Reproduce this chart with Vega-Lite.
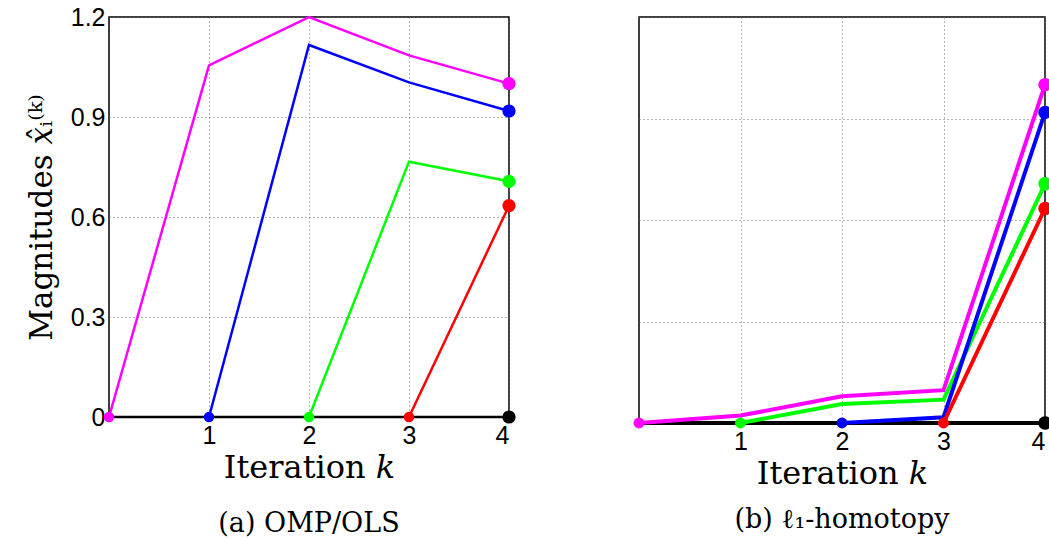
{
  "$schema": "https://vega.github.io/schema/vega-lite/v6.json",
  "padding": {"left": 25, "top": 4, "right": 0, "bottom": 0},
  "background": "white",
  "spacing": 130,
  "bounds": "flush",
  "config": {
    "view": {"stroke": "black", "strokeWidth": 1.5},
    "axis": {
      "labelFont": "Liberation Sans",
      "labelFontSize": 25,
      "labelColor": "black",
      "titleFont": "DejaVu Serif",
      "titleFontWeight": "normal",
      "titleFontSize": 32,
      "titleColor": "black",
      "domain": false,
      "ticks": false,
      "gridColor": "#666",
      "gridDash": [1, 3],
      "gridWidth": 1
    },
    "title": {"font": "DejaVu Serif", "fontSize": 27, "fontWeight": "normal", "color": "black"}
  },
  "data": {
    "values": [
      {"panel": "a", "s": "x5", "k": 0, "v": 0},
      {"panel": "a", "s": "x5", "k": 4, "v": 0},
      {"panel": "a", "s": "x1", "k": 0, "v": 0},
      {"panel": "a", "s": "x1", "k": 1, "v": 1.055},
      {"panel": "a", "s": "x1", "k": 2, "v": 1.2},
      {"panel": "a", "s": "x1", "k": 3, "v": 1.085},
      {"panel": "a", "s": "x1", "k": 4, "v": 1.0},
      {"panel": "a", "s": "x2", "k": 1, "v": 0},
      {"panel": "a", "s": "x2", "k": 2, "v": 1.116},
      {"panel": "a", "s": "x2", "k": 3, "v": 1.004},
      {"panel": "a", "s": "x2", "k": 4, "v": 0.918},
      {"panel": "a", "s": "x3", "k": 2, "v": 0},
      {"panel": "a", "s": "x3", "k": 3, "v": 0.766},
      {"panel": "a", "s": "x3", "k": 4, "v": 0.707},
      {"panel": "a", "s": "x4", "k": 3, "v": 0},
      {"panel": "a", "s": "x4", "k": 4, "v": 0.634},
      {"panel": "b", "s": "x5", "k": 0, "v": 0},
      {"panel": "b", "s": "x5", "k": 4, "v": 0},
      {"panel": "b", "s": "x1", "k": 0, "v": 0},
      {"panel": "b", "s": "x1", "k": 1, "v": 0.022},
      {"panel": "b", "s": "x1", "k": 2, "v": 0.079},
      {"panel": "b", "s": "x1", "k": 3, "v": 0.097},
      {"panel": "b", "s": "x1", "k": 4, "v": 1.0},
      {"panel": "b", "s": "x3", "k": 1, "v": 0},
      {"panel": "b", "s": "x3", "k": 2, "v": 0.056},
      {"panel": "b", "s": "x3", "k": 3, "v": 0.069},
      {"panel": "b", "s": "x3", "k": 4, "v": 0.707},
      {"panel": "b", "s": "x2", "k": 2, "v": 0},
      {"panel": "b", "s": "x2", "k": 3, "v": 0.017},
      {"panel": "b", "s": "x2", "k": 4, "v": 0.918},
      {"panel": "b", "s": "x4", "k": 3, "v": 0},
      {"panel": "b", "s": "x4", "k": 4, "v": 0.634}
    ]
  },
  "hconcat": [
    {
      "width": 400,
      "height": 400,
      "title": {"text": "(a) OMP/OLS", "orient": "bottom", "offset": 28},
      "transform": [{"filter": "datum.panel == 'a'"}],
      "encoding": {
        "x": {"field": "k", "type": "quantitative", "scale": {"domain": [0, 4], "nice": false},
              "axis": {"values": [1, 2, 3, 4], "title": "Iteration 𝑘", "labelPadding": 6, "titlePadding": 4}},
        "y": {"field": "v", "type": "quantitative", "scale": {"domain": [0, 1.2], "nice": false},
              "axis": {"values": [0, 0.3, 0.6, 0.9, 1.2], "format": "~g", "title": "Magnitudes  𝑥̂ᵢ⁽ᵏ⁾", "titleFontSize": 31, "labelPadding": 4, "titlePadding": 12}},
        "color": {"field": "s", "type": "nominal", "legend": null,
                  "scale": {"domain": ["x1", "x2", "x3", "x4", "x5"], "range": ["#ff00ff", "#0000ff", "#00ff00", "#ff0000", "#000000"]}}
      },
      "layer": [
        {"mark": {"type": "line", "strokeWidth": 2.5, "clip": false}},
        {
          "transform": [
            {"window": [{"op": "min", "field": "k", "as": "kmin"}], "groupby": ["s"], "frame": [null, null]},
            {"filter": "datum.k == datum.kmin && datum.s != 'x5'"}
          ],
          "mark": {"type": "point", "filled": true, "opacity": 1, "size": 110, "clip": false}
        },
        {
          "transform": [{"filter": "datum.k == 4"}],
          "mark": {"type": "point", "filled": true, "opacity": 1, "size": 175, "clip": false}
        }
      ]
    },
    {
      "width": 406,
      "height": 406,
      "title": {"text": "(b) ℓ₁-homotopy", "orient": "bottom", "offset": 18},
      "transform": [{"filter": "datum.panel == 'b'"}],
      "encoding": {
        "x": {"field": "k", "type": "quantitative", "scale": {"domain": [0, 4], "nice": false},
              "axis": {"values": [1, 2, 3, 4], "title": "Iteration 𝑘", "labelPadding": 6, "titlePadding": 4}},
        "y": {"field": "v", "type": "quantitative", "scale": {"domain": [0, 1.2], "nice": false},
              "axis": {"values": [0, 0.3, 0.6, 0.9, 1.2], "labels": false, "title": null}},
        "color": {"field": "s", "type": "nominal", "legend": null,
                  "scale": {"domain": ["x1", "x2", "x3", "x4", "x5"], "range": ["#ff00ff", "#0000ff", "#00ff00", "#ff0000", "#000000"]}}
      },
      "layer": [
        {"mark": {"type": "line", "strokeWidth": 4, "clip": false}},
        {
          "transform": [
            {"window": [{"op": "min", "field": "k", "as": "kmin"}], "groupby": ["s"], "frame": [null, null]},
            {"filter": "datum.k == datum.kmin && datum.s != 'x5'"}
          ],
          "mark": {"type": "point", "filled": true, "opacity": 1, "size": 120, "clip": false}
        },
        {
          "transform": [{"filter": "datum.k == 4"}],
          "mark": {"type": "point", "filled": true, "opacity": 1, "size": 180, "clip": false}
        }
      ]
    }
  ]
}
